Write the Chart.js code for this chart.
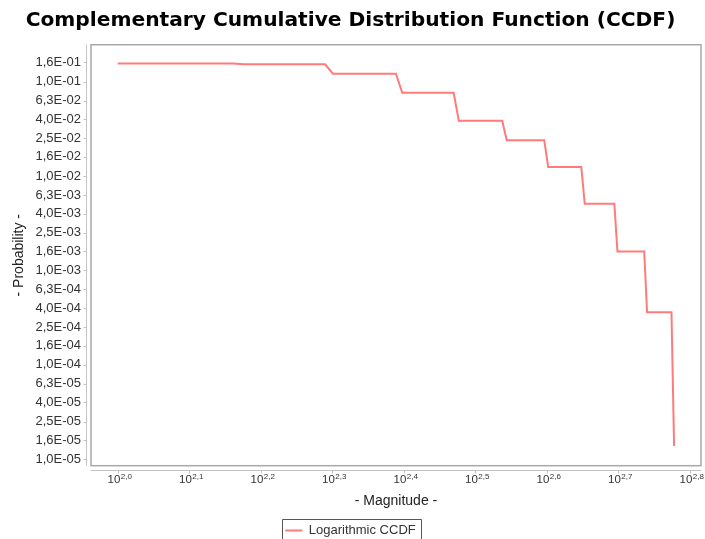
<!DOCTYPE html>
<html>
<head>
<meta charset="utf-8">
<script src="https://cdn.jsdelivr.net/npm/chart.js@4/dist/chart.umd.min.js"></script>
<style>
  html, body { margin: 0; padding: 0; background: #fff; }
</style>
</head>
<body>
<canvas id="ccdf" width="705" height="539"></canvas>
<script>
// step corners of the CCDF (magnitude -> probability)
const magnitudes = [100, 145, 150, 195, 200, 245, 250, 295, 300, 345, 350,
                    395, 400, 445, 450, 495, 500, 545, 550, 595, 600];
const probabilities = [0.156, 0.156, 0.1525, 0.1525, 0.1213, 0.1213, 0.0762, 0.0762,
                       0.0385, 0.0385, 0.0239, 0.0239, 0.01245, 0.01245, 0.00509, 0.00509,
                       0.00159, 0.00159, 0.00036, 0.00036, 0.0000138];

const yTickValues = [1.6e-1, 1.0e-1, 6.3e-2, 4.0e-2, 2.5e-2, 1.6e-2, 1.0e-2, 6.3e-3,
                     4.0e-3, 2.5e-3, 1.6e-3, 1.0e-3, 6.3e-4, 4.0e-4, 2.5e-4, 1.6e-4,
                     1.0e-4, 6.3e-5, 4.0e-5, 2.5e-5, 1.6e-5, 1.0e-5];
const yTickLabels = ['1,6E-01', '1,0E-01', '6,3E-02', '4,0E-02', '2,5E-02', '1,6E-02',
                     '1,0E-02', '6,3E-03', '4,0E-03', '2,5E-03', '1,6E-03', '1,0E-03',
                     '6,3E-04', '4,0E-04', '2,5E-04', '1,6E-04', '1,0E-04', '6,3E-05',
                     '4,0E-05', '2,5E-05', '1,6E-05', '1,0E-05'];

const xTickExponents = [2.0, 2.1, 2.2, 2.3, 2.4, 2.5, 2.6, 2.7, 2.8];
const xTickLabels = ['2,0', '2,1', '2,2', '2,3', '2,4', '2,5', '2,6', '2,7', '2,8'];

const lineColor = 'rgba(255, 90, 90, 0.8)';
const labelFont = '"Liberation Sans", Arial, sans-serif';

// plot frame, offset axis lines, superscript x labels, legend frame
const axisDecor = {
  id: 'axisDecor',
  afterDraw(chart) {
    const { ctx, chartArea: a, scales: { x, y } } = chart;
    ctx.save();
    ctx.strokeStyle = '#a8a8a8';
    ctx.lineWidth = 1.5;
    ctx.strokeRect(a.left, a.top, a.right - a.left, a.bottom - a.top);

    ctx.strokeStyle = '#c4c4c4';
    ctx.lineWidth = 1;
    ctx.beginPath();
    const ax = Math.round(a.left - 5) + 0.5;
    const ay = Math.round(a.bottom + 4) + 0.5;
    ctx.moveTo(ax, a.top); ctx.lineTo(ax, a.bottom);
    ctx.moveTo(a.left, ay); ctx.lineTo(a.right, ay);
    y.ticks.forEach(t => {
      const py = Math.round(y.getPixelForValue(t.value)) + 0.5;
      ctx.moveTo(ax - 3, py); ctx.lineTo(ax, py);
    });
    xTickExponents.forEach(e => {
      const px = Math.round(x.getPixelForValue(Math.pow(10, e))) + 0.5;
      ctx.moveTo(px, ay); ctx.lineTo(px, ay + 3);
    });
    ctx.stroke();

    ctx.fillStyle = '#333';
    ctx.textBaseline = 'alphabetic';
    ctx.textAlign = 'left';
    xTickExponents.forEach((e, i) => {
      const px = x.getPixelForValue(Math.pow(10, e));
      ctx.font = '11.5px ' + labelFont;
      const wBase = ctx.measureText('10').width;
      ctx.font = '8px ' + labelFont;
      const wExp = ctx.measureText(xTickLabels[i]).width;
      const left = px + 2 - (wBase + wExp + 0.5) / 2;
      ctx.font = '11.5px ' + labelFont;
      ctx.fillText('10', left, a.bottom + 17.5);
      ctx.font = '8px ' + labelFont;
      ctx.fillText(xTickLabels[i], left + wBase + 0.5, a.bottom + 13.5);
    });

    const hb = chart.legend.legendHitBoxes[0];
    if (hb) {
      ctx.strokeStyle = '#555';
      ctx.lineWidth = 1;
      const l = Math.round(hb.left - 3) + 0.5;
      const t = Math.round(hb.top - 5) + 0.5;
      const r = Math.round(hb.left + hb.width + 5) + 0.5;
      ctx.beginPath();
      ctx.moveTo(l, 545); ctx.lineTo(l, t); ctx.lineTo(r, t); ctx.lineTo(r, 545);
      ctx.stroke();
    }
    ctx.restore();
  }
};

new Chart(document.getElementById('ccdf'), {
  type: 'line',
  data: {
    datasets: [{
      label: 'Logarithmic CCDF',
      data: magnitudes.map((m, i) => ({ x: m, y: probabilities[i] })),
      borderColor: lineColor,
      backgroundColor: lineColor,
      borderWidth: 2,
      pointRadius: 0,
      tension: 0,
      fill: false
    }]
  },
  options: {
    responsive: false,
    animation: false,
    devicePixelRatio: 1,
    layout: { padding: { left: 0, right: 4, top: 0, bottom: -8 } },
    plugins: {
      title: {
        display: true,
        text: 'Complementary Cumulative Distribution Function (CCDF)',
        color: '#000',
        font: { family: '"DejaVu Sans", sans-serif', size: 20.2, weight: 'bold', lineHeight: 1.2 },
        padding: { top: 8.5, bottom: 12 }
      },
      legend: {
        position: 'bottom',
        labels: {
          usePointStyle: true,
          pointStyle: 'line',
          pointStyleWidth: 17,
          color: '#333',
          padding: 6,
          font: { family: labelFont, size: 13 }
        }
      },
      tooltip: { enabled: false }
    },
    scales: {
      x: {
        type: 'logarithmic',
        min: Math.pow(10, 1.96266),
        max: Math.pow(10, 2.8158),
        grid: { display: false, drawTicks: false },
        border: { display: false },
        ticks: { display: false },
        afterBuildTicks: s => { s.ticks = xTickExponents.map(e => ({ value: Math.pow(10, e) })); },
        afterFit: s => { s.height = 52.3; },
        title: {
          display: true,
          text: '- Magnitude -',
          color: '#222',
          font: { family: labelFont, size: 14 },
          padding: { top: 0, bottom: 8.2 }
        }
      },
      y: {
        type: 'logarithmic',
        min: Math.pow(10, -5.0678),
        max: Math.pow(10, -0.6093),
        grid: { display: false, drawTicks: false },
        border: { display: false },
        afterBuildTicks: s => { s.ticks = yTickValues.map(v => ({ value: v })); },
        afterFit: s => { s.width = 91; },
        ticks: {
          color: '#333',
          padding: 10,
          font: { family: labelFont, size: 13 },
          callback: (v, i) => yTickLabels[i]
        },
        title: {
          display: true,
          text: '- Probability -',
          color: '#222',
          font: { family: labelFont, size: 14 },
          padding: { top: 11, bottom: 0 }
        }
      }
    }
  },
  plugins: [axisDecor]
});
</script>
</body>
</html>
